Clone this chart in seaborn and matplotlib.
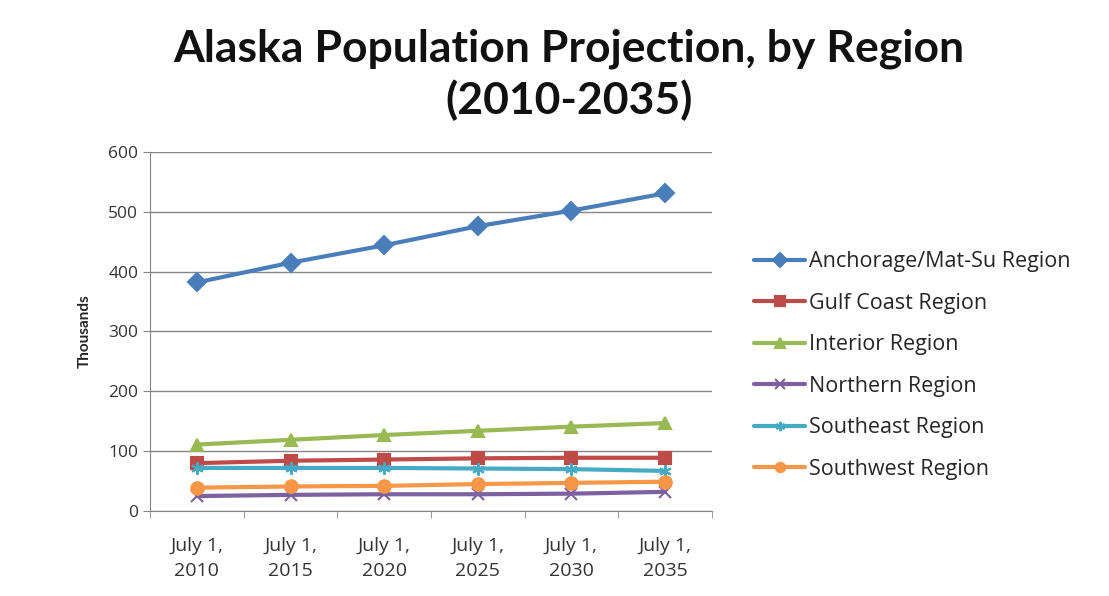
import pandas as pd
import matplotlib.pyplot as plt
import seaborn as sns

# values (thousands)
years = ["July 1,\n2010", "July 1,\n2015", "July 1,\n2020", "July 1,\n2025", "July 1,\n2030", "July 1,\n2035"]
anchorage = [382, 415, 444, 476, 502, 531]
gulf_coast = [80, 84, 86, 88, 89, 89]
interior = [111, 119, 127, 134, 141, 147]
northern = [25, 27, 28, 28, 29, 32]
southeast = [72, 72, 72, 71, 70, 67]
southwest = [39, 41, 42, 45, 47, 49]

regions = ["Anchorage/Mat-Su Region", "Gulf Coast Region", "Interior Region",
           "Northern Region", "Southeast Region", "Southwest Region"]
series = [anchorage, gulf_coast, interior, northern, southeast, southwest]

colors = ["#4A7EBB", "#BE4B48", "#98B954", "#7D60A0", "#46AAC5", "#F79646"]
markers = ["D", "s", "^", "x", (6, 2, 0), "o"]

sns.set_style("white")
plt.rcParams['font.family'] = ['Lato', 'DejaVu Sans']

fig = plt.figure(figsize=(11.09, 5.96), dpi=100)
ax = fig.add_axes([0.1353, 0.1426, 0.5067, 0.6024])

for name, vals, c, m in zip(regions, series, colors, markers):
    d = pd.DataFrame({"pos": range(len(vals)), "value": vals})
    sns.lineplot(data=d, x="pos", y="value", color=c, marker=m, label=name,
                 linewidth=3, markersize=9, markeredgewidth=1.5,
                 markeredgecolor=c, ax=ax)

ax.set_xlim(-0.5, 5.5)
ax.set_ylim(0, 600)
ax.set_yticks(range(0, 601, 100))
ax.yaxis.grid(True, color="#868686", linewidth=1)
ax.set_xticks(range(6))
ax.set_xticklabels(years, fontsize=14, color="#333333", family="Open Sans", linespacing=1.5)
ax.set_xticks([i - 0.5 for i in range(7)], minor=True)
ax.tick_params(axis="x", which="major", length=0, pad=19)
ax.tick_params(axis="x", which="minor", length=5, color="#868686", direction="out", bottom=True)
ax.tick_params(axis="y", labelsize=12.5, labelcolor="#333333", length=5, color="#868686", left=True)
for lbl in ax.get_yticklabels():
    lbl.set_family("Open Sans")
for s in ["top", "right"]:
    ax.spines[s].set_visible(False)
for s in ["left", "bottom"]:
    ax.spines[s].set_color("#868686")
ax.set_xlabel("")
ax.set_ylabel("Thousands", fontsize=11, fontweight="bold", labelpad=12)

fig.text(0.513, 0.918, "Alaska Population Projection, by Region", ha="center", va="center",
         fontsize=32, fontweight="bold", color="#111111")
fig.text(0.513, 0.832, "(2010-2035)", ha="center", va="center",
         fontsize=32, fontweight="bold", color="#111111")

ax.legend(loc="center left", bbox_to_anchor=(1.04, 0.405), frameon=False,
          prop={"family": "Open Sans", "size": 15.5}, labelspacing=0.95,
          handlelength=2.4, handletextpad=0.15, markerscale=0.75)

plt.savefig("out.png", dpi=100)
